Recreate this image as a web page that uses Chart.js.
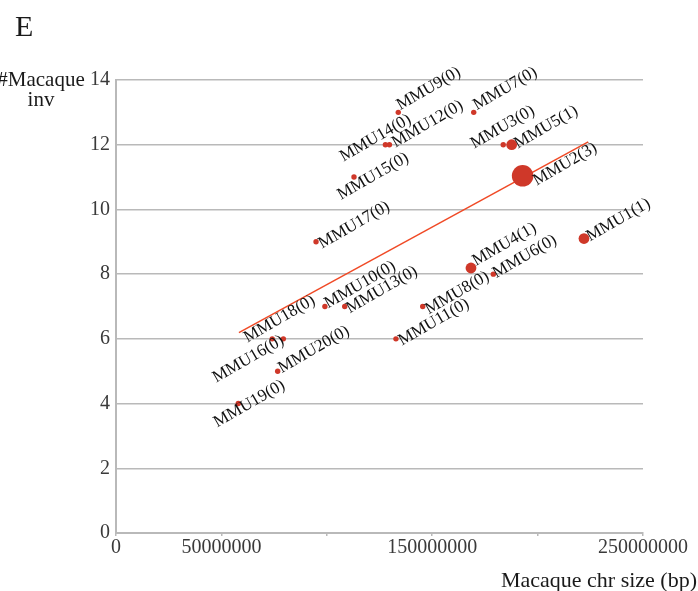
<!DOCTYPE html>
<html>
<head>
<meta charset="utf-8">
<script src="https://cdn.jsdelivr.net/npm/chart.js@4.4.1/dist/chart.umd.min.js"></script>
<style>
  html, body { margin: 0; padding: 0; background: #ffffff; }
  #wrap { width: 698px; height: 591px; position: relative; }
</style>
</head>
<body>
<div id="wrap"><canvas id="chart" width="698" height="591"></canvas></div>
<script>
// Macaque chromosomes: size (bp), number of inversions, count shown in parentheses
const chromosomes = ['MMU1','MMU2','MMU3','MMU4','MMU5','MMU6','MMU7','MMU8','MMU9','MMU10',
                     'MMU11','MMU12','MMU13','MMU14','MMU15','MMU16','MMU17','MMU18','MMU19','MMU20'];
const chrSizes = [222.0e6, 192.9e6, 183.7e6, 168.4e6, 187.7e6, 179.0e6, 169.7e6, 145.5e6, 133.9e6, 99.1e6,
                  132.8e6, 129.7e6, 108.5e6, 127.8e6, 112.9e6, 74.1e6, 94.9e6, 79.4e6, 58.0e6, 76.7e6];
const inversions = [9.1, 11.04, 12, 8.19, 12, 8, 13, 7, 13, 7,
                    6, 12, 7, 12, 11, 6, 9, 6, 4, 5];
const bracketCounts = [1, 3, 0, 1, 1, 0, 0, 0, 0, 0,
                       0, 0, 0, 0, 0, 0, 0, 0, 0, 0];

// Fitted trend line end points
const trendSizes = [58.3e6, 224.0e6];
const trendInversions = [6.19, 12.09];

// Axis tick values and the ones that carry a label
const xTickStep = 50000000;
const xLabelledTicks = [0, 50000000, 150000000, 250000000];
const yTickStep = 2;

const panelLetter = 'E';
const yTitleLines = ['#Macaque', 'inv'];
const xTitle = 'Macaque chr size (bp)';

// Label placement for each point: offset of the text start from the point centre
const labelOffsets = [
  [6, 3], [14, 10], [-29, 4], [5, -2], [6, 4], [3, 4], [3, -2], [6, 8], [2, -2], [3, 2],
  [6, 7], [6, 3], [5, 7], [-42, 17], [-13, 23], [-56, 44], [6, 7], [-36, 4], [-21, 24], [4, 2]
];

const SERIF = '"Liberation Serif", "Times New Roman", serif';
const DOT_COLOR = '#cf3829';
const LINE_COLOR = '#f04a26';
const GRID_COLOR = '#b9b9b9';

const bubbleRadius = c => 2.7 * (1 + c);

const points = chromosomes.map((name, i) => ({
  x: chrSizes[i],
  y: inversions[i],
  r: bubbleRadius(bracketCounts[i])
}));
const pointLabels = chromosomes.map((name, i) => name + '(' + bracketCounts[i] + ')');
const trendPoints = trendSizes.map((x, i) => ({ x: x, y: trendInversions[i] }));

const textPlugin = {
  id: 'textPlugin',
  afterDatasetsDraw(chart) {
    const ctx = chart.ctx;
    const meta = chart.getDatasetMeta(0);
    ctx.save();
    ctx.font = '17px ' + SERIF;
    ctx.fillStyle = '#111111';
    ctx.textAlign = 'left';
    ctx.textBaseline = 'alphabetic';
    meta.data.forEach((el, i) => {
      const off = labelOffsets[i];
      ctx.save();
      ctx.translate(el.x + off[0], el.y + off[1]);
      ctx.rotate(-Math.PI / 6);
      ctx.fillText(pointLabels[i], 0, 0);
      ctx.restore();
    });
    ctx.restore();
  },
  afterDraw(chart) {
    const ctx = chart.ctx;
    ctx.save();
    ctx.fillStyle = '#1a1a1a';
    ctx.textBaseline = 'alphabetic';
    ctx.font = '30px ' + SERIF;
    ctx.textAlign = 'left';
    ctx.fillText(panelLetter, 15, 36);
    ctx.font = '21px ' + SERIF;
    ctx.textAlign = 'center';
    ctx.fillText(yTitleLines[0], 41, 86);
    ctx.fillText(yTitleLines[1], 41, 106);
    ctx.font = '22px ' + SERIF;
    ctx.textAlign = 'right';
    ctx.fillText(xTitle, 697, 587);
    ctx.restore();
  }
};

new Chart(document.getElementById('chart'), {
  type: 'bubble',
  data: {
    datasets: [
      {
        data: points,
        backgroundColor: DOT_COLOR,
        borderWidth: 0,
        hoverBorderWidth: 0
      },
      {
        type: 'line',
        data: trendPoints,
        borderColor: LINE_COLOR,
        borderWidth: 1.5,
        pointRadius: 0,
        fill: false,
        tension: 0
      }
    ]
  },
  options: {
    responsive: false,
    devicePixelRatio: 1,
    animation: false,
    events: [],
    layout: { padding: { left: 0, right: 55, top: 80, bottom: 0 } },
    plugins: {
      legend: { display: false },
      tooltip: { enabled: false },
      title: { display: false }
    },
    scales: {
      x: {
        type: 'linear',
        min: 0,
        max: 250000000,
        afterFit(scale) { scale.height = 58; },
        afterBuildTicks(scale) {
          const ticks = [];
          for (let v = 0; v <= 250000000; v += xTickStep) ticks.push({ value: v });
          scale.ticks = ticks;
        },
        ticks: {
          autoSkip: false,
          maxRotation: 0,
          minRotation: 0,
          padding: 0,
          color: '#3a3a3a',
          font: { family: SERIF, size: 20 },
          callback: v => (xLabelledTicks.includes(v) ? String(v) : '')
        },
        grid: {
          drawOnChartArea: false,
          drawTicks: true,
          tickLength: 3,
          color: GRID_COLOR,
          lineWidth: 1.5
        },
        border: { display: true, color: GRID_COLOR, width: 2 }
      },
      y: {
        type: 'linear',
        min: 0,
        max: 14,
        afterFit(scale) { scale.width = 116; },
        ticks: {
          stepSize: yTickStep,
          padding: 6,
          color: '#3a3a3a',
          font: { family: SERIF, size: 20 }
        },
        grid: {
          drawTicks: false,
          color: GRID_COLOR,
          lineWidth: 1.5
        },
        border: { display: true, color: GRID_COLOR, width: 2 }
      }
    }
  },
  plugins: [textPlugin]
});
</script>
</body>
</html>
